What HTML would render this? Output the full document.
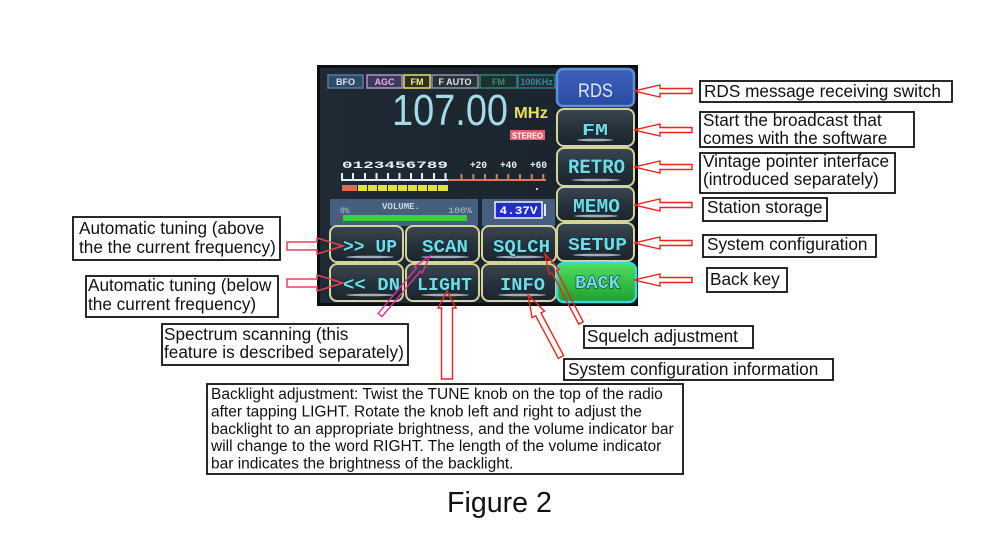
<!DOCTYPE html>
<html><head><meta charset="utf-8"><style>
html,body{margin:0;padding:0;background:#fff;}
svg{display:block;}
.lbl{font-family:"Liberation Sans",Arial,sans-serif;font-size:17.2px;fill:#111;}
.bl{font-family:"Liberation Sans",Arial,sans-serif;font-size:15.5px;fill:#111;}
.btn{font-family:"Liberation Mono",monospace;font-weight:bold;fill:#6fdce6;stroke:#0b2530;stroke-width:1;paint-order:stroke;}
.tag{font-family:"Liberation Sans",Arial,sans-serif;font-weight:bold;font-size:9px;}
</style></head><body>
<svg width="1000" height="542" viewBox="0 0 1000 542" xmlns="http://www.w3.org/2000/svg">
<defs>
<linearGradient id="bg" x1="0" y1="0" x2="0" y2="1">
<stop offset="0" stop-color="#3a4852"/><stop offset="0.5" stop-color="#26323c"/><stop offset="1" stop-color="#1a242c"/>
</linearGradient>
<linearGradient id="rds" x1="0" y1="0" x2="0" y2="1">
<stop offset="0" stop-color="#3e62c0"/><stop offset="1" stop-color="#2a4aa0"/>
</linearGradient>
<linearGradient id="grn" x1="0" y1="0" x2="0" y2="1">
<stop offset="0" stop-color="#50e060"/><stop offset="1" stop-color="#1e9e30"/>
</linearGradient>
<linearGradient id="scr" x1="0" y1="0" x2="1" y2="0">
<stop offset="0" stop-color="#1f2a34"/><stop offset="1" stop-color="#1a232b"/>
</linearGradient>
</defs>

<!-- Screen -->
<rect x="317" y="65" width="321" height="241" fill="#0c0f13"/>
<rect x="320" y="68" width="315" height="235" fill="url(#scr)"/>

<!-- Tags -->
<rect x="328" y="75" width="35" height="13" fill="#2c4a6a" stroke="#5a7a9a" stroke-width="1.5"/>
<text class="tag" x="345.5" y="85" text-anchor="middle" fill="#dde4ee">BFO</text>
<rect x="367" y="75" width="35" height="13" fill="#3a3a5c" stroke="#b890c8" stroke-width="1.5"/>
<text class="tag" x="384.5" y="85" text-anchor="middle" fill="#e8b0e8">AGC</text>
<rect x="404" y="75" width="26" height="13" fill="#2c3222" stroke="#e8e070" stroke-width="1.5"/>
<text class="tag" x="417" y="85" text-anchor="middle" fill="#f4f080">FM</text>
<rect x="432" y="75" width="46" height="13" fill="#2a3139" stroke="#8a96a4" stroke-width="1.5"/>
<text class="tag" x="455" y="85" text-anchor="middle" fill="#e0e4ea">F AUTO</text>
<rect x="480" y="75" width="37" height="13" fill="#1e2f30" stroke="#2f8070" stroke-width="1.5"/>
<text class="tag" x="498.5" y="85" text-anchor="middle" fill="#3a8a70">FM</text>
<rect x="518" y="75" width="37" height="13" fill="#1e2f36" stroke="#2a7a8a" stroke-width="1.5"/>
<text class="tag" x="536.5" y="85" text-anchor="middle" fill="#3a8a9a" font-size="8">100KHz</text>

<!-- Frequency -->
<text x="392" y="125" font-family="Liberation Sans,Arial,sans-serif" font-size="44" fill="#a2dae6" textLength="116" lengthAdjust="spacingAndGlyphs">107.00</text>
<text x="514" y="118" font-family="Liberation Sans,Arial,sans-serif" font-weight="bold" font-size="16" fill="#e8e060" textLength="34" lengthAdjust="spacingAndGlyphs">MHz</text>
<rect x="510" y="130" width="35" height="10" fill="#e06070"/>
<text x="527.5" y="138.5" text-anchor="middle" font-family="Liberation Sans,Arial,sans-serif" font-weight="bold" font-size="8" fill="#fff" textLength="31" lengthAdjust="spacingAndGlyphs">STEREO</text>

<!-- Scale -->
<text x="342" y="168" font-family="Liberation Mono,monospace" font-weight="bold" font-size="10" fill="#e8f0f4" textLength="106" lengthAdjust="spacingAndGlyphs">0123456789</text>
<text x="470" y="168" font-family="Liberation Mono,monospace" font-weight="bold" font-size="10" fill="#e8f0f4" textLength="17" lengthAdjust="spacingAndGlyphs">+20</text>
<text x="500" y="168" font-family="Liberation Mono,monospace" font-weight="bold" font-size="10" fill="#e8f0f4" textLength="17" lengthAdjust="spacingAndGlyphs">+40</text>
<text x="530" y="168" font-family="Liberation Mono,monospace" font-weight="bold" font-size="10" fill="#e8f0f4" textLength="17" lengthAdjust="spacingAndGlyphs">+60</text>
<g stroke="#e8f0f4" stroke-width="2">
<line x1="341" y1="180" x2="448" y2="180"/>
<line x1="342" y1="173" x2="342" y2="180"/><line x1="353" y1="173" x2="353" y2="180"/><line x1="365" y1="173" x2="365" y2="180"/><line x1="376.5" y1="173" x2="376.5" y2="180"/><line x1="388" y1="173" x2="388" y2="180"/><line x1="399.5" y1="173" x2="399.5" y2="180"/><line x1="411" y1="173" x2="411" y2="180"/><line x1="422" y1="173" x2="422" y2="180"/><line x1="434" y1="173" x2="434" y2="180"/><line x1="445.5" y1="173" x2="445.5" y2="180"/>
</g>
<g stroke="#e07a5c" stroke-width="2">
<line x1="448" y1="180" x2="546" y2="180"/>
<line x1="461.5" y1="174" x2="461.5" y2="180"/><line x1="473.3" y1="174" x2="473.3" y2="180"/><line x1="485" y1="174" x2="485" y2="180"/><line x1="496.7" y1="174" x2="496.7" y2="180"/><line x1="508.3" y1="174" x2="508.3" y2="180"/><line x1="520" y1="174" x2="520" y2="180"/><line x1="531.7" y1="174" x2="531.7" y2="180"/><line x1="543.3" y1="174" x2="543.3" y2="180"/>
</g>
<rect x="342" y="185" width="15" height="6" fill="#e06a55"/>
<g fill="#e4e040">
<rect x="358" y="185" width="9" height="6"/><rect x="368" y="185" width="9" height="6"/><rect x="378" y="185" width="9" height="6"/><rect x="388" y="185" width="9" height="6"/><rect x="398" y="185" width="9" height="6"/><rect x="408" y="185" width="9" height="6"/><rect x="418" y="185" width="9" height="6"/><rect x="428" y="185" width="9" height="6"/><rect x="438" y="185" width="10" height="6"/>
</g>
<rect x="536" y="188" width="2" height="2" fill="#ccc"/>

<!-- Volume panel -->
<rect x="330" y="199" width="148" height="27" fill="#465f7e"/>
<text x="340" y="213" font-family="Liberation Mono,monospace" font-size="8" fill="#b0c4d8">0%</text>
<text x="382" y="209" font-family="Liberation Mono,monospace" font-weight="bold" font-size="9" fill="#c8d8e8" textLength="38" lengthAdjust="spacingAndGlyphs">VOLUME.</text>
<text x="448" y="213" font-family="Liberation Mono,monospace" font-size="8" fill="#b0c4d8" textLength="24" lengthAdjust="spacingAndGlyphs">100%</text>
<rect x="343" y="215" width="124" height="6" fill="#3cd038"/>
<rect x="482" y="199" width="73" height="27" fill="#465f7e"/>
<rect x="495" y="202" width="47" height="16" fill="#1e2ecc" stroke="#f4f4f4" stroke-width="1.5"/>
<text x="518.5" y="214" text-anchor="middle" font-family="Liberation Mono,monospace" font-weight="bold" font-size="11" fill="#fff" textLength="38" lengthAdjust="spacingAndGlyphs">4.37V</text>
<rect x="544" y="204" width="2" height="12" fill="#e8e8e8"/>

<!-- Right column buttons -->
<rect x="557" y="69" width="77" height="37" rx="6" fill="url(#rds)" stroke="#5c90d8" stroke-width="2.5"/>
<text x="578" y="97" font-family="Liberation Sans,Arial,sans-serif" font-size="19" fill="#dde6f4" textLength="35" lengthAdjust="spacingAndGlyphs">RDS</text>

<g stroke="#d4d49c" stroke-width="2" fill="url(#bg)">
<rect x="557" y="109" width="77" height="37" rx="7"/>
<rect x="557" y="148" width="77" height="38" rx="7"/>
<rect x="557" y="187" width="77" height="34" rx="7"/>
<rect x="557" y="223" width="77" height="38" rx="7"/>
<rect x="330" y="226" width="73" height="36" rx="7"/>
<rect x="406" y="226" width="73" height="36" rx="7"/>
<rect x="482" y="226" width="74" height="36" rx="7"/>
<rect x="330" y="264" width="73" height="37" rx="7"/>
<rect x="406" y="264" width="73" height="37" rx="7"/>
<rect x="482" y="264" width="74" height="37" rx="7"/>
</g>
<rect x="557" y="263" width="79" height="39" rx="7" fill="url(#grn)" stroke="#32dada" stroke-width="2.5"/>

<!-- underline glows -->
<g fill="#d0d8e0" opacity="0.75">
<ellipse cx="595" cy="140" rx="18" ry="1.3"/>
<ellipse cx="596" cy="180" rx="24" ry="1.3"/>
<ellipse cx="596" cy="216" rx="22" ry="1.3"/>
<ellipse cx="597" cy="255" rx="24" ry="1.3"/>
<ellipse cx="370" cy="257" rx="24" ry="1.3"/>
<ellipse cx="445" cy="257" rx="24" ry="1.3"/>
<ellipse cx="520" cy="257" rx="24" ry="1.3"/>
<ellipse cx="370" cy="295" rx="24" ry="1.3"/>
<ellipse cx="445" cy="295" rx="24" ry="1.3"/>
<ellipse cx="522" cy="295" rx="24" ry="1.3"/>
</g>

<text class="btn" x="582" y="135" font-size="17" textLength="26" lengthAdjust="spacingAndGlyphs">FM</text>
<text class="btn" x="568" y="173" font-size="20" textLength="57" lengthAdjust="spacingAndGlyphs">RETRO</text>
<text class="btn" x="573" y="212" font-size="19" textLength="47" lengthAdjust="spacingAndGlyphs">MEMO</text>
<text class="btn" x="568" y="250" font-size="18" textLength="59" lengthAdjust="spacingAndGlyphs">SETUP</text>
<text class="btn" x="343" y="252" font-size="18" textLength="54" lengthAdjust="spacingAndGlyphs">&gt;&gt; UP</text>
<text class="btn" x="422" y="252" font-size="18" textLength="46" lengthAdjust="spacingAndGlyphs">SCAN</text>
<text class="btn" x="493" y="252" font-size="18" textLength="57" lengthAdjust="spacingAndGlyphs">SQLCH</text>
<text class="btn" x="343" y="290" font-size="18" textLength="57" lengthAdjust="spacingAndGlyphs">&lt;&lt; DN</text>
<text class="btn" x="417" y="290" font-size="18" textLength="55" lengthAdjust="spacingAndGlyphs">LIGHT</text>
<text class="btn" x="500" y="290" font-size="18" textLength="45" lengthAdjust="spacingAndGlyphs">INFO</text>
<text class="btn" x="575" y="288" font-size="18" textLength="45" lengthAdjust="spacingAndGlyphs">BACK</text>

<!-- Right arrows (pointing left) -->
<g fill="none" stroke="#e8261e" stroke-width="1.4" stroke-linejoin="miter">
<polygon points="634,91 660,85 660,88.5 692,88.5 692,93.5 660,93.5 660,97"/>
<polygon points="634,130 660,124 660,127.5 692,127.5 692,132.5 660,132.5 660,136"/>
<polygon points="634,167 660,161 660,164.5 692,164.5 692,169.5 660,169.5 660,173"/>
<polygon points="634,205 660,199 660,202.5 692,202.5 692,207.5 660,207.5 660,211"/>
<polygon points="634,243 660,237 660,240.5 692,240.5 692,245.5 660,245.5 660,249"/>
<polygon points="634,280 660,274 660,277.5 692,277.5 692,282.5 660,282.5 660,286"/>
</g>
<!-- Left arrows (pointing right) -->
<g fill="none" stroke="#e8405a" stroke-width="1.5">
<polygon points="343,246 317,238 317,242 287,242 287,250 317,250 317,254"/>
<polygon points="343,283 317,275 317,279 287,279 287,287 317,287 317,291"/>
</g>
<!-- LIGHT arrow -->
<polygon points="447,291 456,308 452.5,308 452.5,379 441.5,379 441.5,308 438,308" fill="none" stroke="#e8261e" stroke-width="1.4"/>
<!-- INFO arrow -->
<polygon points="528,295 544.5,311.1 541,313 563.6,355.6 558.4,358.4 535.7,315.8 532.1,317.7" fill="none" stroke="#e8261e" stroke-width="1.4"/>
<!-- SQLCH arrow -->
<polygon points="545,254 559.1,269.2 556.5,270.6 583.2,321.8 578.8,324.2 552,272.9 549.4,274.3" fill="none" stroke="#e8261e" stroke-width="1.4"/>
<!-- SCAN arrow -->
<polygon points="430,256 422.2,273 420.3,271.4 381.9,316.6 378.1,313.4 416.4,268.1 414.5,266.5" fill="none" stroke="#e0309a" stroke-width="1.4"/>

<!-- Right label boxes -->
<g fill="#fff" stroke="#111" stroke-width="1.8">
<rect x="700" y="81" width="252" height="21"/>
<rect x="700" y="112" width="214" height="35"/>
<rect x="700" y="153" width="195" height="40"/>
<rect x="703" y="198" width="124" height="23"/>
<rect x="703" y="235" width="173" height="22"/>
<rect x="707" y="268" width="80" height="24"/>
<rect x="73" y="217" width="207" height="43"/>
<rect x="86" y="276" width="192" height="41"/>
<rect x="162" y="324" width="246" height="41"/>
<rect x="584" y="326" width="169" height="22"/>
<rect x="564" y="359" width="269" height="21"/>
<rect x="207" y="384" width="476" height="90"/>
</g>
<text class="lbl" x="704" y="97">RDS message receiving switch</text>
<text class="lbl" x="703" y="126">Start the broadcast that</text>
<text class="lbl" x="703" y="144">comes with the software</text>
<text class="lbl" x="703" y="167">Vintage pointer interface</text>
<text class="lbl" x="703" y="185">(introduced separately)</text>
<text class="lbl" x="707" y="213">Station storage</text>
<text class="lbl" x="707" y="250">System configuration</text>
<text class="lbl" x="710" y="285">Back key</text>

<text class="lbl" x="79" y="234">Automatic tuning (above</text>
<text class="lbl" x="79" y="253">the the current frequency)</text>
<text class="lbl" x="88" y="291">Automatic tuning (below</text>
<text class="lbl" x="88" y="310">the current frequency)</text>

<text class="lbl" x="164" y="340">Spectrum scanning (this</text>
<text class="lbl" x="164" y="358">feature is described separately)</text>

<text class="lbl" x="587" y="342">Squelch adjustment</text>
<text class="lbl" x="568" y="375">System configuration information</text>

<text class="bl" x="211" y="399">Backlight adjustment: Twist the TUNE knob on the top of the radio</text>
<text class="bl" x="211" y="416.5">after tapping LIGHT. Rotate the knob left and right to adjust the</text>
<text class="bl" x="211" y="434">backlight to an appropriate brightness, and the volume indicator bar</text>
<text class="bl" x="211" y="451">will change to the word RIGHT. The length of the volume indicator</text>
<text class="bl" x="211" y="468.5">bar indicates the brightness of the backlight.</text>

<text x="447" y="512" font-family="Liberation Sans,Arial,sans-serif" font-size="28.6" fill="#111">Figure 2</text>
</svg>
</body></html>
